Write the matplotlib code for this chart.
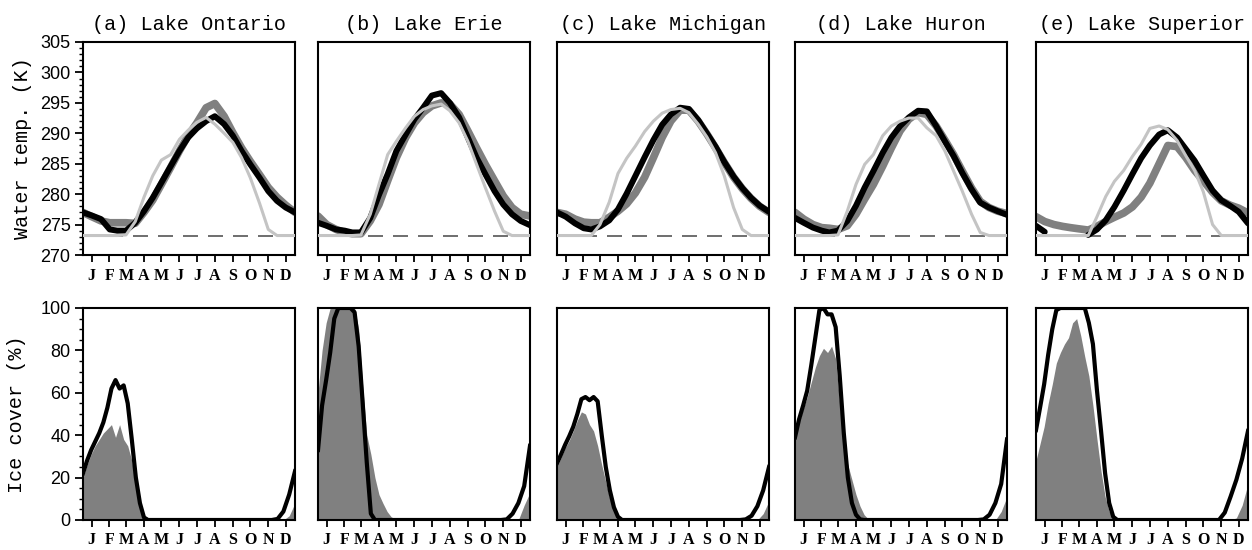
import matplotlib
matplotlib.use("Agg")
import matplotlib.pyplot as plt
from matplotlib.ticker import MultipleLocator

NAN = float("nan")

# ---------------- data ----------------
LAKES = ["(a) Lake Ontario", "(b) Lake Erie", "(c) Lake Michigan",
         "(d) Lake Huron", "(e) Lake Superior"]
MONTH_LABELS = ["J", "F", "M", "A", "M", "J", "J", "A", "S", "O", "N", "D"]
MONTH_TICKS = [15, 45, 74, 105, 135, 166, 196, 227, 258, 288, 319, 349]

DAYS = [0, 15, 31, 46, 59, 74, 90, 105, 120, 135, 151, 166, 181, 196, 212,
        227, 243, 258, 273, 288, 304, 319, 334, 349, 365]
FREEZE_K = 273.15

# water temperature (K): thick grey, thick black, thin light grey
ontario_grey = [277.0, 276.3, 275.6, 275.3, 275.3, 275.3, 275.2, 277.0, 279.0, 281.6, 284.4, 287.1, 289.6,
                291.7, 294.2, 294.9, 292.8, 290.1, 287.6, 285.4, 283.2, 281.1, 279.5, 278.2, 277.0]
ontario_black = [277.0, 276.5, 275.9, 274.2, 274.0, 274.0, 275.3, 277.2, 279.4, 281.9, 284.6, 287.1, 289.3,
                 290.8, 292.0, 292.8, 291.5, 289.6, 287.1, 284.9, 282.7, 280.5, 278.9, 277.8, 277.0]
ontario_light = [273.2, 273.2, 273.2, 273.2, 273.2, 273.3, 275.5, 279.5, 283.0, 285.6, 286.5, 289.0, 290.5,
                 291.8, 292.6, 291.5, 290.0, 288.5, 286.0, 282.7, 278.5, 274.2, 273.2, 273.2, 273.2]

erie_grey = [276.4, 275.0, 274.2, 273.7, 273.5, 273.5, 275.6, 278.3, 282.2, 286.0, 289.3, 291.7, 293.4,
             294.5, 295.0, 294.8, 293.1, 290.4, 287.6, 284.9, 282.2, 279.7, 277.8, 276.7, 276.4]
erie_black = [275.3, 274.8, 274.2, 274.0, 273.7, 273.7, 276.1, 279.9, 283.3, 287.1, 289.8, 292.3, 294.2,
              296.2, 296.6, 295.0, 292.6, 289.3, 286.0, 283.3, 280.5, 278.3, 276.7, 275.6, 274.9]
erie_light = [273.2, 273.2, 273.2, 273.2, 273.2, 273.3, 276.7, 281.6, 286.5, 288.7, 290.9, 292.8, 293.9,
              294.5, 294.8, 293.7, 291.7, 288.7, 284.9, 281.1, 277.2, 273.9, 273.2, 273.2, 273.2]

michigan_grey = [277.0, 276.7, 275.9, 275.4, 275.3, 275.3, 276.2, 277.2, 278.4, 280.2, 282.8, 286.0, 289.3,
                 292.0, 293.8, 293.8, 292.0, 289.9, 287.6, 285.2, 282.8, 280.9, 279.3, 278.0, 277.0]
michigan_black = [277.0, 276.3, 275.2, 274.4, 274.2, 274.7, 275.7, 277.5, 280.1, 283.0, 286.1, 288.9, 291.4,
                  293.1, 294.2, 294.0, 292.2, 290.0, 287.8, 285.3, 282.9, 281.0, 279.4, 278.1, 277.1]
michigan_light = [273.2, 273.2, 273.2, 273.2, 273.2, 275.0, 278.7, 283.4, 285.9, 287.9, 290.3, 292.0, 293.3,
                  293.9, 294.1, 293.4, 291.5, 289.4, 286.8, 283.0, 277.8, 274.2, 273.2, 273.2, 273.2]

huron_grey = [277.0, 275.9, 275.0, 274.5, 274.4, 274.2, 274.8, 276.7, 279.2, 281.6, 284.6, 287.6, 290.4,
              292.3, 293.4, 293.1, 291.2, 288.9, 286.5, 283.8, 281.0, 278.8, 277.8, 277.2, 276.8]
huron_black = [276.1, 275.3, 274.5, 274.0, 273.7, 274.0, 275.6, 278.1, 281.1, 283.8, 286.8, 289.3, 291.2,
               292.6, 293.7, 293.6, 291.2, 288.7, 286.3, 283.5, 280.8, 278.6, 277.8, 277.2, 276.6]
huron_light = [273.2, 273.2, 273.2, 273.2, 273.2, 273.3, 277.2, 281.6, 284.9, 286.5, 289.6, 291.2, 292.0,
               292.5, 292.5, 290.9, 289.6, 287.1, 283.8, 280.5, 276.7, 273.7, 273.2, 273.2, 273.2]

superior_grey = [276.3, 275.5, 275.0, 274.7, 274.5, 274.3, 274.1, 274.7, 275.5, 276.2, 276.9, 277.9, 279.5,
                 281.8, 285.0, 288.0, 287.8, 286.0, 283.9, 282.2, 280.3, 278.9, 278.2, 277.7, 276.9]
superior_black = [274.8, 273.8, NAN, NAN, NAN, NAN, 273.3, 274.2, 275.7, 277.9, 280.6, 283.3, 285.9,
                  288.0, 289.8, 290.5, 289.3, 287.4, 285.5, 283.1, 280.6, 279.0, 278.1, 277.1, 275.2]
superior_light = [273.2, 273.2, 273.2, 273.2, 273.2, 273.2, 273.2, 276.3, 279.6, 282.1, 283.9, 286.2, 288.2,
                  290.8, 291.2, 290.6, 288.8, 286.3, 283.9, 280.4, 275.0, 273.2, 273.2, 273.2, 273.2]

# ice cover (%): grey fill (observed) and black line
ICE_DAYS = [0, 7, 14, 21, 28, 35, 42, 49, 56, 63, 70, 77, 84, 91, 98, 105, 112, 119, 126, 133, 140,
            300, 315, 325, 335, 345, 355, 365]

ontario_ice_fill = [20, 26, 31, 35, 38, 41, 43, 45, 39, 45, 38, 35, 28, 15, 5, 2, 1, 0.3, 0, 0, 0,
                    0, 0, 0, 0, 0, 2, 8]
ontario_ice_line = [22, 28, 33, 37, 41, 46, 53, 62, 66, 62, 63.5, 55, 38, 20, 8, 1.2, 0, 0, 0, 0, 0,
                    0, 0, 0, 0.5, 4, 12, 23]

erie_ice_fill = [60, 80, 93, 100, 100, 100, 100, 100, 100, 100, 90, 63, 40, 31, 20, 12, 7.8, 4, 1.5, 0.5, 0,
                 0, 0, 0, 0, 0, 7, 13]
erie_ice_line = [33, 54, 66, 79, 95, 100, 100, 100, 100, 98, 82, 55, 27, 3, 0, 0, 0, 0, 0, 0, 0,
                 0, 0, 0.3, 3, 8, 16, 35]

michigan_ice_fill = [25, 29.5, 34, 37.5, 42, 47, 51, 50, 45, 42, 35, 26, 18, 10, 4.5, 2, 0.8, 0.2, 0, 0, 0,
                     0, 0, 0, 0, 0, 3, 9]
michigan_ice_line = [26.7, 31, 35.5, 39.5, 44, 50, 57, 58, 56.5, 58, 56, 40, 25, 14, 6, 1.5, 0, 0, 0, 0, 0,
                     0, 0, 0.3, 2, 6.5, 14, 25]

huron_ice_fill = [37.7, 46, 52.5, 58, 65, 72, 77.5, 81, 79, 82, 76, 55, 33, 26, 19, 12, 6.5, 2.5, 0.5, 0, 0,
                  0, 0, 0, 0, 0, 4, 11]
huron_ice_line = [39, 47.5, 54, 61, 73, 86, 99, 100, 97, 97, 91, 68, 41, 20, 8, 2.5, 0.3, 0, 0, 0, 0,
                  0, 0, 0.3, 2.5, 8, 17, 38]

superior_ice_fill = [28, 36, 44, 55, 64, 74, 79, 83, 86, 93, 95, 87, 77, 68, 54, 38, 23, 11, 4, 0.8, 0,
                     0, 0, 0, 0, 1, 7, 17]
superior_ice_line = [42.4, 53, 64, 78, 90, 99, 100, 100, 100, 100, 100, 100, 100, 93, 83, 61, 42, 22, 8, 1.5, 0,
                     0, 0, 3.5, 11, 19, 29, 42]

TEMP = [(ontario_grey, ontario_black, ontario_light),
        (erie_grey, erie_black, erie_light),
        (michigan_grey, michigan_black, michigan_light),
        (huron_grey, huron_black, huron_light),
        (superior_grey, superior_black, superior_light)]
ICE = [(ontario_ice_fill, ontario_ice_line),
       (erie_ice_fill, erie_ice_line),
       (michigan_ice_fill, michigan_ice_line),
       (huron_ice_fill, huron_ice_line),
       (superior_ice_fill, superior_ice_line)]

# ---------------- figure ----------------
W, H = 1252, 550
fig = plt.figure(figsize=(W / 100, H / 100), dpi=100)

lefts = [83, 318, 557, 795, 1036]
pw = 212
top_row = (42, 255)
bot_row = (308, 520)

MONO = "Liberation Mono"
SANS = "Liberation Sans"
SERIF = "Liberation Serif"


def make_ax(x0, row):
    y0, y1 = row
    return fig.add_axes([x0 / W, 1 - y1 / H, pw / W, (y1 - y0) / H])


def style(ax, show_y):
    for s in ax.spines.values():
        s.set_linewidth(1.5)
    ax.set_xlim(0, 365)
    ax.set_xticks(MONTH_TICKS)
    ax.set_xticklabels(MONTH_LABELS, fontfamily=SERIF, fontweight="bold", fontsize=11.5)
    ax.tick_params(axis="x", direction="out", length=5, width=1.3, pad=4)
    if show_y:
        ax.tick_params(axis="y", which="major", direction="out", length=6, width=1.3, pad=3,
                       labelsize=13)
        ax.tick_params(axis="y", which="minor", direction="out", length=3, width=1.0)
        for lab in ax.get_yticklabels():
            lab.set_fontfamily(SANS)
    else:
        ax.tick_params(axis="y", which="both", left=False, labelleft=False)


for i in range(5):
    g, b, l = TEMP[i]
    ax = make_ax(lefts[i], top_row)
    ax.axhline(FREEZE_K, color="#555555", lw=1.2, dashes=(9, 6), zorder=1)
    ax.plot(DAYS, g, color="#808080", lw=5.5, solid_capstyle="round", zorder=2)
    ax.plot(DAYS, b, color="black", lw=4.3, solid_capstyle="round", zorder=3)
    ax.plot(DAYS, l, color="#c4c4c4", lw=2.2, zorder=4)
    ax.set_ylim(270, 305)
    ax.set_yticks(range(270, 306, 5))
    ax.yaxis.set_minor_locator(MultipleLocator(1))
    style(ax, i == 0)
    ax.set_title(LAKES[i], fontfamily=MONO, fontsize=14.5, pad=9)
    if i == 0:
        ax.set_ylabel("Water temp. (K)", fontfamily=MONO, fontsize=14.5, labelpad=6)

    f, ln = ICE[i]
    ax2 = make_ax(lefts[i], bot_row)
    ax2.fill_between(ICE_DAYS, 0, f, color="#808080", lw=0, zorder=2)
    ax2.plot(ICE_DAYS, ln, color="black", lw=3.0, zorder=3)
    ax2.set_ylim(0, 100)
    ax2.set_yticks(range(0, 101, 20))
    ax2.yaxis.set_minor_locator(MultipleLocator(5))
    style(ax2, i == 0)
    if i == 0:
        ax2.set_ylabel("Ice cover (%)", fontfamily=MONO, fontsize=14.5, labelpad=10)

fig.savefig("out.png", dpi=100)
